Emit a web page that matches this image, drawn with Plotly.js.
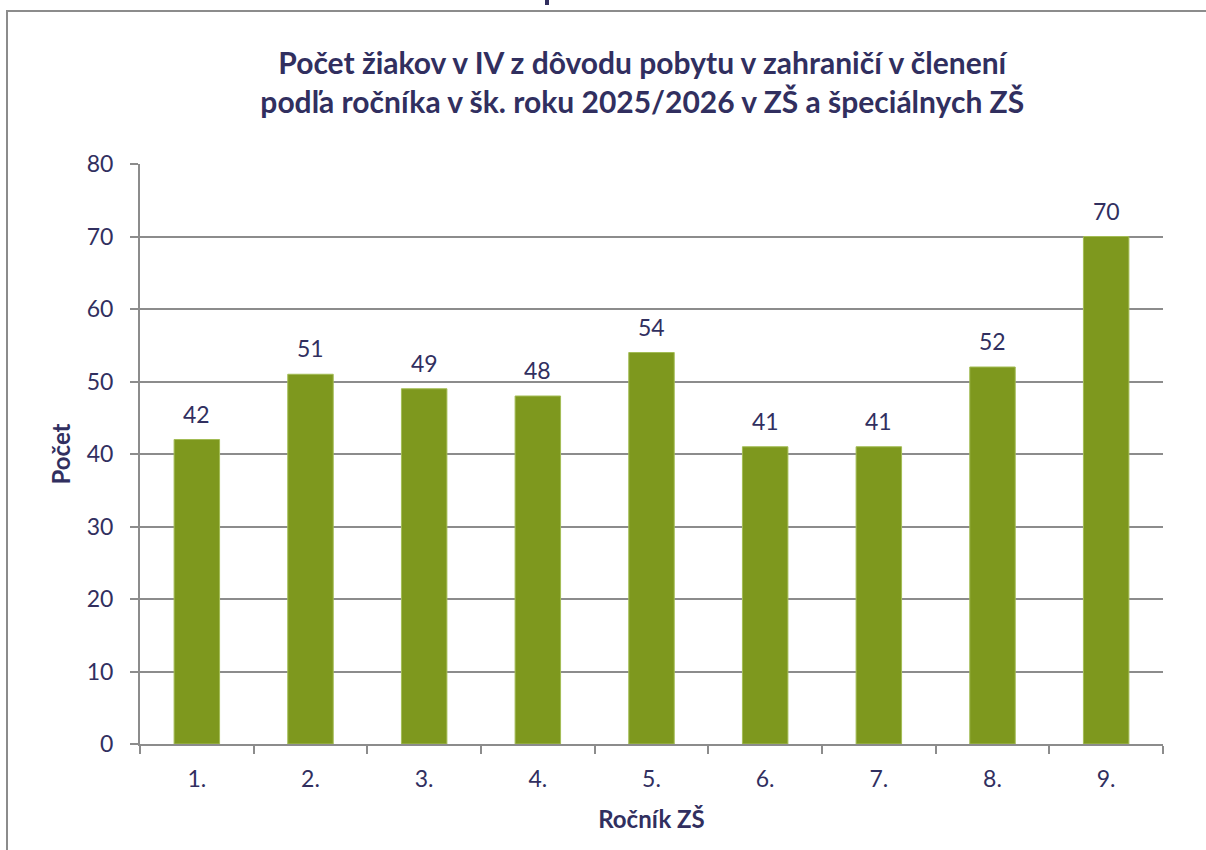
<!DOCTYPE html>
<html>
<head>
<meta charset="utf-8">
<script src="https://cdn.plot.ly/plotly-3.0.1.min.js"></script>
<style>
html,body{margin:0;padding:0;background:#fff;}
#wrap{position:relative;width:1206px;height:850px;}
#chart{width:1206px;height:850px;}
#frame{position:absolute;left:6px;top:10px;right:-10px;bottom:-10px;border-left:2px solid #8c8c8c;border-top:2px solid #8c8c8c;pointer-events:none;}
#frag{position:absolute;left:545px;top:0px;width:4px;height:5px;background:#312F5F;pointer-events:none;}
</style>
</head>
<body>
<div id="wrap">
<div id="chart"></div>
<div id="frame"></div>
<div id="frag"></div>
</div>
<script>
const categories = ["1.", "2.", "3.", "4.", "5.", "6.", "7.", "8.", "9."];
const values = [42, 51, 49, 48, 54, 41, 41, 52, 70];
const yTicks = [0, 10, 20, 30, 40, 50, 60, 70, 80];

const FONT = "Lato, 'Open Sans', sans-serif";
const NAVY = "#312F5F";
const GRID = "#8c8c8c";

const trace = {
  type: "bar",
  x: categories,
  y: values,
  marker: {color: "#7E981E", line: {color: "#A3BC55", width: 1}},
  hoverinfo: "x+y"
};

const annotations = categories.map((c, i) => ({
  x: i, y: values[i], xref: "x", yref: "y",
  text: String(values[i]), showarrow: false,
  yanchor: "bottom", yshift: 10,
  font: {family: FONT, size: 23, color: NAVY}
}));

const layout = {
  width: 1206, height: 850,
  margin: {l: 140, r: 43, t: 164, b: 106},
  paper_bgcolor: "#ffffff", plot_bgcolor: "#ffffff",
  bargap: 0.6,
  showlegend: false,
  title: {
    text: "Počet žiakov v IV z dôvodu pobytu v zahraničí v členení<br>podľa ročníka v šk. roku 2025/2026 v ZŠ a špeciálnych ZŠ",
    font: {family: FONT, size: 30, color: NAVY, weight: "bold"},
    x: 0.491, xref: "paper", xanchor: "center",
    y: 0.913, yref: "container", yanchor: "top"
  },
  xaxis: {
    type: "category",
    range: [-0.5, categories.length - 0.5],
    tickson: "boundaries",
    ticks: "outside", ticklen: 8, tickcolor: GRID, tickwidth: 2,
    showline: true, linecolor: GRID, linewidth: 2,
    showgrid: false, zeroline: false,
    tickfont: {family: FONT, size: 23, color: NAVY},
    ticklabelstandoff: 13,
    title: {text: "Ročník ZŠ", font: {family: FONT, size: 24, color: NAVY, weight: "bold"}, standoff: 21}
  },
  yaxis: {
    range: [0, 80],
    tickvals: yTicks,
    ticks: "outside", ticklen: 8, tickcolor: GRID, tickwidth: 2,
    showline: true, linecolor: GRID, linewidth: 2,
    showgrid: true, gridcolor: GRID, gridwidth: 1.5,
    zeroline: false,
    tickfont: {family: FONT, size: 23, color: NAVY},
    ticklabelstandoff: 12,
    title: {text: "Počet", font: {family: FONT, size: 24, color: NAVY, weight: "bold"}, standoff: 9}
  },
  annotations: annotations
};

Plotly.newPlot("chart", [trace], layout, {displayModeBar: false});
</script>
</body>
</html>
